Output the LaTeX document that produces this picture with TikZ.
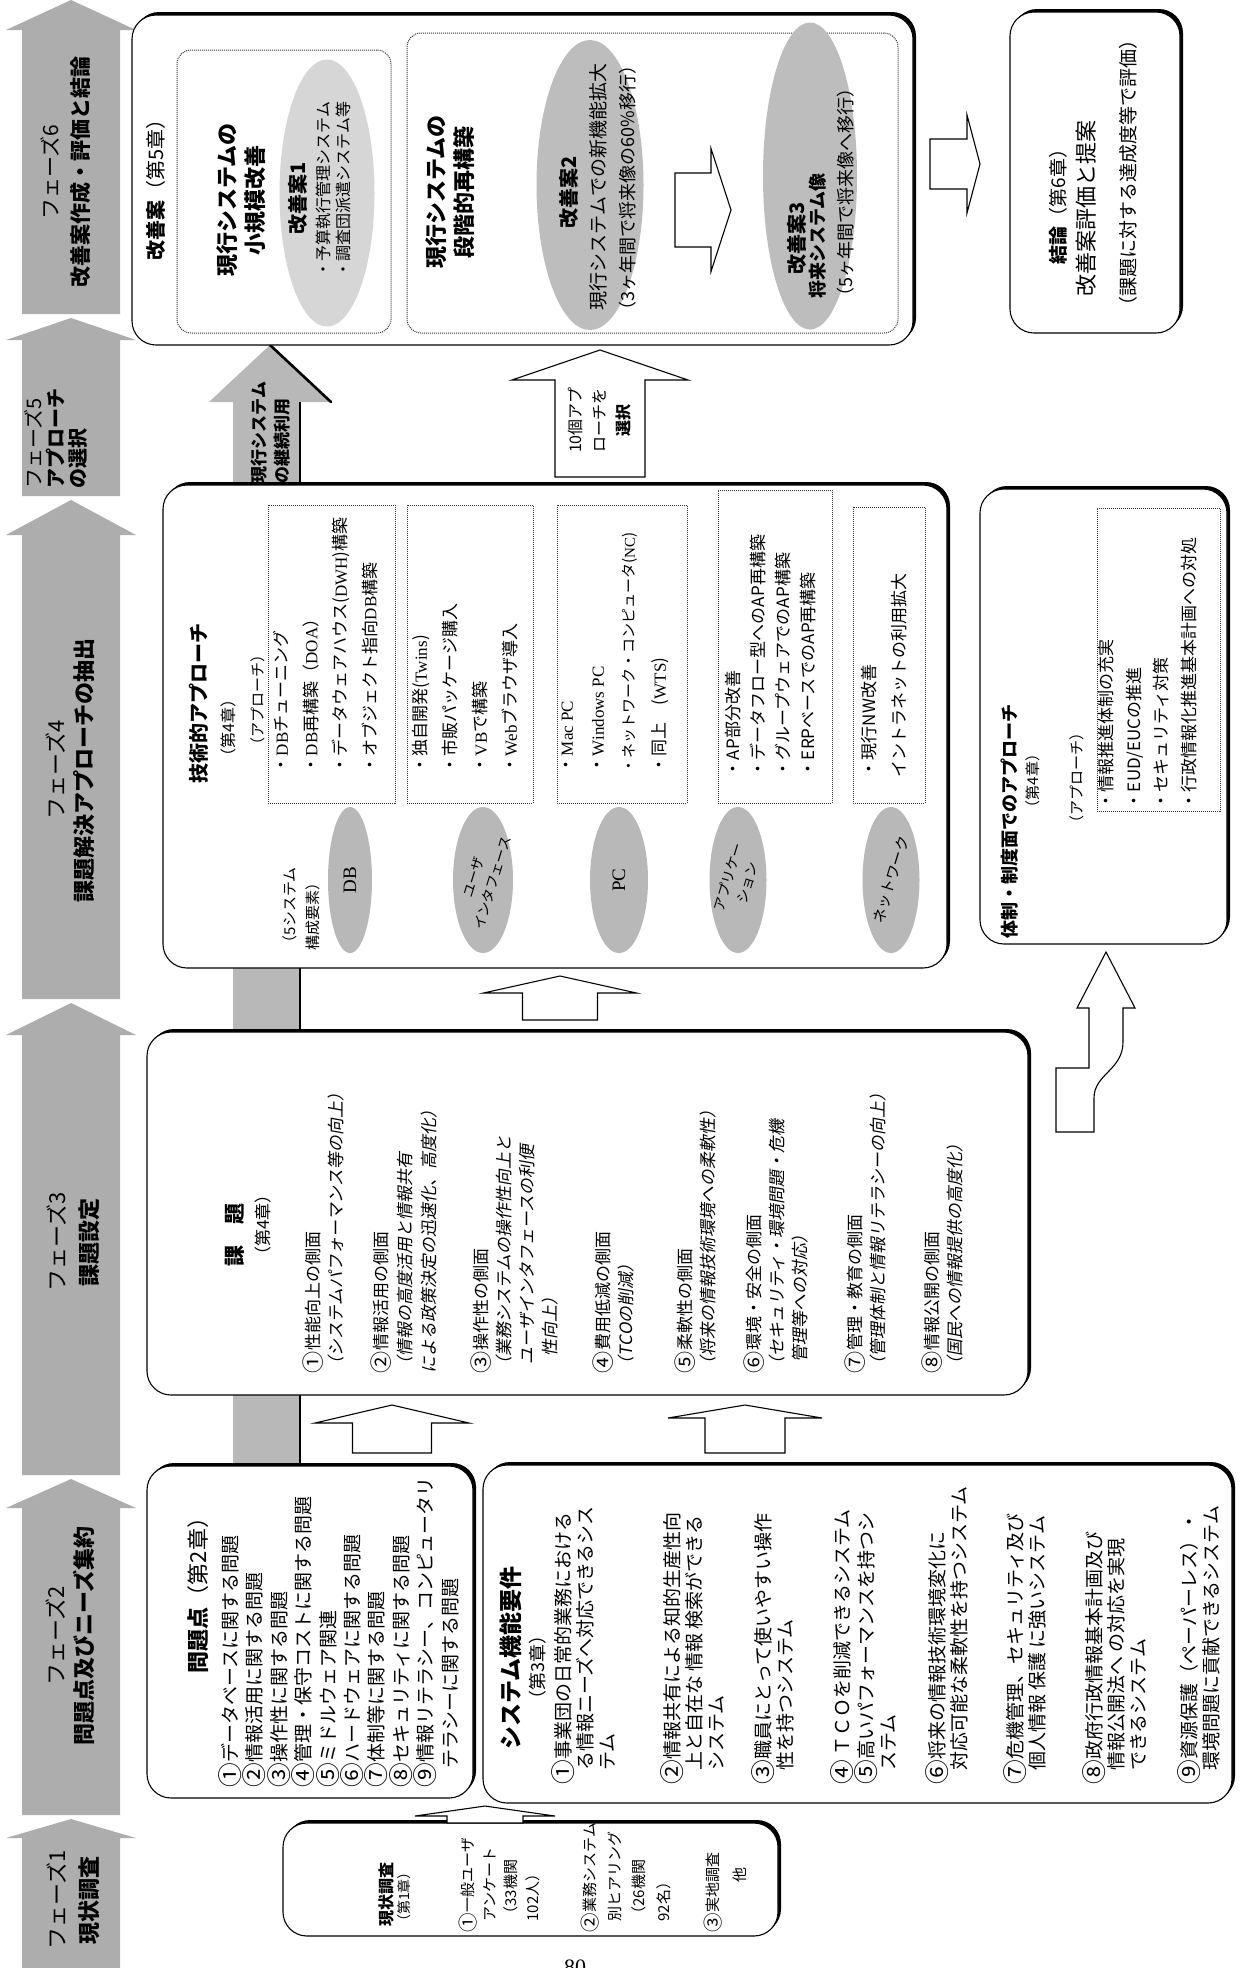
\documentclass[tikz,border=0pt]{standalone}
\usepackage{graphicx}
\usepackage{fontspec}
\setmainfont{Noto Sans CJK JP}
\newfontfamily\jpit[FakeSlant=0.18]{Noto Sans CJK JP}
\newfontfamily\latinserif{Liberation Serif}
\usetikzlibrary{shapes.geometric}
\newcommand\fsz[2]{\fontsize{#1}{#2}\selectfont}
% enlarged circled numeral
\newcommand\cn[1]{\raisebox{-0.1em}{\scalebox{1.3}{#1}}}
% phase arrow: tip y, shoulder y, bottom y (image coordinates, y downwards)
\newcommand\phasearrow[3]{%
  \fill[phasefill] (22,-#3) -- (22,-#2) -- (6,-#2) -- (71,-#1) -- (136,-#2) -- (120,-#2) -- (120,-#3) -- cycle;}
% upward block arrow: tip x, tip y, shoulder y, bottom y, head half width, shaft half width
\newcommand\uparrowblk[6]{%
  \draw[blockarrow] (#1-#6,-#4) -- (#1-#6,-#3) -- (#1-#5,-#3) -- (#1,-#2) -- (#1+#5,-#3) -- (#1+#6,-#3) -- (#1+#6,-#4) -- cycle;}
% rightward block arrow: tip x, tip y, shoulder x, tail x, head half height, shaft half height
\newcommand\rightarrowblk[6]{%
  \draw[blockarrow] (#4,-#2+#6) -- (#3,-#2+#6) -- (#3,-#2+#5) -- (#1,-#2) -- (#3,-#2-#5) -- (#3,-#2-#6) -- (#4,-#2-#6) -- cycle;}
% rounded panel with a solid offset shadow: name, centre x, centre y, width, height
\newcommand\panelbox[5]{%
  \node[panelshade, minimum width=#4pt, minimum height=#5pt] at (#2+3,-#3+3) {};
  \node[panel, minimum width=#4pt, minimum height=#5pt] (#1) at (#2,-#3) {};}
\begin{document}
\begin{tikzpicture}[x=1pt, y=1pt,
  panel/.style={draw=black, line width=1.1pt, fill=white, rounded corners=24pt, inner sep=0pt, outer sep=0pt},
  panelshade/.style={fill=black, rounded corners=24pt, inner sep=0pt, outer sep=0pt},
  dotbox/.style={draw=black!80, densely dotted, line width=1pt, inner sep=0pt},
  phasefill/.style={fill=black!32},
  blockarrow/.style={draw=black, line width=1.1pt, fill=white, line join=miter},
  oval/.style={ellipse, inner sep=0pt},
  tx/.style={rotate=90, inner sep=0pt, outer sep=0pt},
  tilt/.style={rotate=73, inner sep=0pt, outer sep=0pt},
  kitem/.style={tx, align=left, anchor=north west, font=\fsz{17}{23}},
  sitem/.style={tx, align=left, anchor=north west, font=\fsz{19}{22}},
]
\useasboundingbox (0,0) rectangle (1247,-1968);
\fill[white] (0,0) rectangle (1247,-1968);

% ---------- phase band ----------
\phasearrow{0}{30}{314}
\phasearrow{318}{340}{496}
\phasearrow{500}{535}{999}
\phasearrow{1003}{1035}{1475}
\phasearrow{1479}{1508}{1815}
\phasearrow{1819}{1838}{1980}

\node[tx, align=center, font=\fsz{21}{30}] (lp6) at (66,-172) {フェーズ6\\\textbf{改善案作成・評価と結論}};
\node[tx, align=left, anchor=north west, font=\fsz{20}{22}] (lp5) at (25,-488) {フェーズ5\\\textbf{アプローチ}\\\textbf{の選択}};
\node[tx, align=center, font=\fsz{22}{28}] (lp4) at (70,-770) {フェーズ4\\\textbf{課題解決アプローチの抽出}};
\node[tx, align=center, font=\fsz{22}{32}] (lp3) at (73,-1242) {フェーズ3\\\textbf{課題設定}};
\node[tx, align=center, font=\fsz{22}{28}] (lp2) at (70,-1636) {フェーズ2\\\textbf{問題点及びニーズ集約}};
\node[tx, align=center, font=\fsz{22}{32}] (lp1) at (73,-1900) {フェーズ1\\\textbf{現状調査}};

% ---------- long grey arrow running behind the panels ----------
\fill[black!28] (233,-1466) -- (233,-402) -- (209,-402) -- (270,-345) -- (331,-402) -- (300,-402) -- (300,-1466) -- cycle;
\draw[line width=2.6pt] (300,-1466) -- (300,-402);
\draw[line width=2.6pt, line cap=round] (331,-402) -- (270,-345);

% ---------- panels ----------
\panelbox{pkaizen}{522.5}{180}{781}{330}
\panelbox{pketsu}{1095}{172.5}{170}{321}
\panelbox{ptech}{555}{726.5}{784}{483}
\panelbox{ptaisei}{1103.5}{716.5}{247}{455}
\panelbox{pkadai}{587.5}{1213.5}{881}{363}
\panelbox{pmondai}{310}{1632}{326}{332}
\panelbox{psystem}{857.5}{1634}{749}{338}
\panelbox{pgenjo}{530.5}{1879.5}{495}{113}

% ---------- dotted groups ----------
\node[dotbox, rounded corners=14pt, minimum width=214pt, minimum height=283pt] (d1) at (284,-191.5) {};
\node[dotbox, rounded corners=14pt, minimum width=491pt, minimum height=300pt] (d2) at (652.5,-183) {};
\node[dotbox, minimum width=127pt, minimum height=298pt] (ddb) at (331.5,-654) {};
\node[dotbox, minimum width=126pt, minimum height=298pt] (dui) at (470,-654) {};
\node[dotbox, minimum width=130pt, minimum height=298pt] (dpc) at (622,-654) {};
\node[dotbox, minimum width=114pt, minimum height=313pt] (dap) at (775,-646.5) {};
\node[dotbox, minimum width=72pt, minimum height=296pt] (dnw) at (889,-655) {};
\node[dotbox, minimum width=123pt, minimum height=303pt] (dtai) at (1158.5,-659.5) {};

% ---------- shaded ovals ----------
\node[oval, fill=black!16, minimum width=95pt, minimum height=267pt] (e1) at (327,-193) {};
\node[oval, fill=black!26, minimum width=107pt, minimum height=290pt] (e2) at (590,-185) {};
\node[oval, fill=black!26, minimum width=94pt, minimum height=307pt] (e3) at (810,-176) {};
\node[oval, fill=black!28, minimum width=44pt, minimum height=146pt] (edb) at (350,-880) {};
\node[oval, fill=black!28, minimum width=60pt, minimum height=146pt] (eui) at (483,-880) {};
\node[oval, fill=black!28, minimum width=58pt, minimum height=146pt] (epc) at (619,-880) {};
\node[oval, fill=black!28, minimum width=57pt, minimum height=146pt] (eap) at (738,-880) {};
\node[oval, fill=black!28, minimum width=57pt, minimum height=146pt] (enw) at (891,-880) {};

% ---------- block arrows ----------
\uparrowblk{600}{350}{380}{477}{88}{45}
\uparrowblk{560}{976}{993}{1020}{76.5}{37.5}
\uparrowblk{392}{1405}{1423}{1453}{77}{39.5}
\uparrowblk{745}{1405}{1418}{1453}{77}{40}
\uparrowblk{485}{1806}{1816}{1823}{70}{38}
\rightarrowblk{731}{210}{711}{675}{61.5}{37}
\rightarrowblk{980}{164}{967}{930}{49}{25}
\draw[blockarrow] (1056,-1132) -- (1056,-1068) -- (1089,-1068) -- (1089,-1008) -- (1077,-1008) -- (1106,-952)
  -- (1135,-1008) -- (1123,-1008) -- (1123,-1042) .. controls (1123,-1070) and (1094,-1074) .. (1094,-1098) -- (1094,-1132) -- cycle;

% ---------- phase 6: improvement plans and conclusion ----------
\node[tx, font=\fsz{20}{24}] (t5) at (156,-185) {\textbf{改善案}（第5章）};
\node[tx, align=center, font=\fsz{22}{28}\bfseries] (t51) at (241,-200) {現行システムの\\小規模改善};
\node[tx, font=\fsz{20}{24}\bfseries] (t52) at (298,-198) {改善案1};
\node[tx, align=left, anchor=north west, font=\fsz{16}{20}] (t53) at (316,-277) {・予算執行管理システム\\・調査団派遣システム等};
\node[tx, align=center, font=\fsz{22}{28}\bfseries] (t54) at (450,-192) {現行システムの\\段階的再構築};
\node[tx, font=\fsz{20}{24}\bfseries] (t55) at (569,-192) {改善案2};
\node[tx, font=\fsz{19}{24}] (t56) at (598,-187) {現行システムでの新機能拡大};
\node[tx, font=\fsz{18}{24}] (t57) at (628,-188) {（3ヶ年間で将来像の60\%移行）};
\node[tx, font=\fsz{20}{24}\bfseries] (t58) at (797,-238) {改善案3};
\node[tx, font=\fsz{18}{24}\bfseries] (t59) at (818,-236) {将来システム像};
\node[tx, font=\fsz{18}{24}] (t510) at (846,-192) {（5ヶ年間で将来像へ移行）};

\node[tx, font=\fsz{19}{24}] (t61) at (1058,-202) {\textbf{結論}（第6章）};
\node[tx, font=\fsz{22}{26}] (t62) at (1086,-208) {改善案評価と提案};
\node[tx, font=\fsz{19}{24}] (t63) at (1128,-173) {（課題に対する達成度等で評価）};

% ---------- arrow captions ----------
\node[tx, align=left, anchor=north west, font=\fsz{17}{23}\bfseries] (tcont) at (251,-483) {現行システム\\の継続利用};
\node[tx, align=center, font=\fsz{16}{24}] (tsel) at (600,-420) {10個アプ\\ローチを\\\textbf{選択}};

% ---------- phase 4: technical approach ----------
\node[tx, font=\fsz{20}{24}\bfseries] (t41) at (199,-703) {技術的アプローチ};
\node[tx, font=\fsz{16}{20}] (t42) at (228,-728) {（第4章）};
\node[tx, font=\fsz{15}{20}] (t43) at (258,-700) {（アプローチ）};
\node[tx, align=left, anchor=north west, font=\fsz{17}{29.5}] (tdb) at (273.5,-773) {・{\latinserif DB}チューニング\\・{\latinserif DB}再構築（{\latinserif DOA}）\\・データウェアハウス({\latinserif DWH})構築\\・オブジェクト指向{\latinserif DB}構築};
\node[tx, align=left, anchor=north west, font=\fsz{17}{30}] (tui) at (412.5,-773) {・独自開発({\latinserif Twins})\\・市販パッケージ購入\\・{\latinserif VB}で構築\\・{\latinserif Web}ブラウザ導入};
\node[tx, align=left, anchor=north west, font=\fsz{17}{31}] (tpc) at (561.5,-773) {・{\latinserif Mac PC}\\・{\latinserif Windows PC}\\{\fsz{15}{31}・ネットワーク・コンピュータ({\latinserif NC})}\\・同上　({\latinserif WTS})};
\node[tx, align=left, anchor=north west, font=\fsz{17}{25}] (tap) at (725,-777) {・AP部分改善\\・データフロー型へのAP再構築\\・グループウェアでのAP構築\\・ERPベースでのAP再構築};
\node[tx, align=left, anchor=north west, font=\fsz{17}{30}] (tnw) at (861.5,-777) {・現行NW改善\\イントラネットの利用拡大};
\node[tx, align=left, anchor=north west, font=\fsz{15}{23}] (t5sys) at (282.5,-950) {（5システム\\構成要素）};
\node[tx, font=\latinserif\fsz{19}{20}] (ldb) at (edb) {DB};
\node[tilt, align=center, font=\fsz{14}{20}] (lui) at (eui) {ユーザ\\インタフェース};
\node[tx, font=\latinserif\fsz{19}{20}] (lpc) at (epc) {PC};
\node[tilt, align=center, font=\fsz{14}{20}] (lap) at (eap) {アプリケー\\ション};
\node[tilt, font=\fsz{15}{19}] (lnw) at (enw) {ネットワーク};

\node[tx, font=\fsz{18}{22}\bfseries] (t71) at (1010,-821) {体制・制度面でのアプローチ};
\node[tx, font=\fsz{15}{20}] (t72) at (1033,-781) {（第4章）};
\node[tx, font=\fsz{15}{20}] (t73) at (1077,-778) {（アプローチ）};
\node[tx, align=left, anchor=north west, font=\fsz{17}{27.5}] (t74) at (1098.5,-809) {・情報推進体制の充実\\・EUD/EUCの推進\\・セキュリティ対策\\・行政情報化推進基本計画への対処};

% ---------- phase 3: issues ----------
\node[tx, font=\fsz{21}{24}\bfseries] (t31) at (235,-1235) {課　題};
\node[tx, font=\fsz{17}{22}] (t32) at (263,-1225) {（第4章）};
\node[kitem] (k1) at (302.5,-1373) {\cn{①}性能向上の側面\\{\jpit（システムパフォーマンス等の向上）}};
\node[kitem, font=\fsz{17}{24}] (k2) at (370.5,-1373) {\cn{②}情報活用の側面\\{\jpit（情報の高度活用と情報共有}\\{\jpit による政策決定の迅速化、高度化）}};
\node[kitem] (k3) at (470.5,-1373) {\cn{③}操作性の側面\\{\jpit（業務システムの操作性向上と}\\{\jpit\hspace*{0.5em}ユーザインタフェースの利便}\\{\jpit\hspace*{1em}性向上）}};
\node[kitem] (k4) at (592.5,-1373) {\cn{④}費用低減の側面\\{\jpit（TCOの削減）}};
\node[kitem] (k5) at (674.5,-1373) {\cn{⑤}柔軟性の側面\\{\jpit（将来の情報技術環境への柔軟性）}};
\node[kitem] (k6) at (743.5,-1373) {\cn{⑥}環境・安全の側面\\{\jpit（セキュリティ・環境問題・危機}\\{\jpit\hspace*{0.6em}管理等への対応）}};
\node[kitem] (k7) at (844.5,-1373) {\cn{⑦}管理・教育の側面\\{\jpit（管理体制と情報リテラシーの向上）}};
\node[kitem] (k8) at (921.5,-1373) {\cn{⑧}情報公開の側面\\{\jpit（国民への情報提供の高度化）}};

% ---------- phase 2: problems and requirements ----------
\node[tx, font=\fsz{22}{26}] (t21) at (198,-1590) {\textbf{問題点}（第2章）};
\node[tx, align=left, anchor=north west, font=\fsz{19}{24.4}] (t22) at (218.5,-1787) {\cn{①}データベースに関する問題\\\cn{②}情報活用に関する問題\\\cn{③}操作性に関する問題\\\cn{④}管理・保守コストに関する問題\\\cn{⑤}ミドルウェア関連\\\cn{⑥}ハードウェアに関する問題\\\cn{⑦}体制等に関する問題\\\cn{⑧}セキュリティに関する問題\\\cn{⑨}情報リテラシー、コンピュータリ\\\hspace*{1em}テラシーに関する問題};

\node[tx, font=\fsz{23}{26}\bfseries] (ts1) at (511,-1658) {システム機能要件};
\node[tx, font=\fsz{18}{22}] (ts2) at (538,-1667) {（第3章）};
\node[sitem] (s1) at (551.5,-1784) {\cn{①}事業団の日常的業務における\\\hspace*{0.7em}る情報ニーズへ対応できるシス\\\hspace*{0.7em}テム};
\node[sitem] (s2) at (660.5,-1784) {\cn{②}情報共有による知的生産性向\\\hspace*{0.7em}上と自在な 情報 検索ができる\\\hspace*{0.7em}システム};
\node[sitem] (s3) at (751.5,-1784) {\cn{③}職員にとって使いやすい操作\\\hspace*{0.7em}性を持つシステム};
\node[sitem] (s4) at (830.5,-1784) {\cn{④} ＴＣＯを削減できるシステム\\\cn{⑤}高いパフォーマンスを持つシ\\\hspace*{0.7em}ステム};
\node[sitem] (s6) at (925.5,-1784) {\cn{⑥}将来の情報技術環境変化に\\\hspace*{0.7em}対応可能な柔軟性を持つシステム};
\node[sitem] (s7) at (1003.5,-1784) {\cn{⑦}危機管理、セキュリティ及び\\\hspace*{0.7em}個人情報 保護 に強いシステム};
\node[sitem] (s8) at (1082.5,-1784) {\cn{⑧}政府行政情報基本計画及び\\\hspace*{0.7em}情報公開法へ の対応を実現\\\hspace*{0.7em}できるシステム};
\node[sitem] (s9) at (1177.5,-1784) {\cn{⑨}資源保護（ペーパーレス）・\\\hspace*{0.7em}環境問題に貢献できるシステム};

% ---------- phase 1: survey ----------
\node[tx, font=\fsz{16}{22}\bfseries] (t11) at (386,-1894) {現状調査};
\node[tx, font=\fsz{14}{20}] (t12) at (404,-1897) {（第1章）};
\node[tx, align=left, anchor=north west, font=\fsz{15}{21.5}] (t13) at (458.5,-1932) {\cn{①}一般ユーザ\\\hspace*{0.7em}アンケート\\\hspace*{0.7em}（33機関\\\hspace*{0.7em}102人）};
\node[tx, align=left, anchor=north west, font=\fsz{15}{24.5}] (t14) at (580.5,-1932) {\cn{②}業務システム\\\hspace*{0.7em}別ヒアリング\\\hspace*{0.7em}（26機関\\\hspace*{0.7em}92名）};
\node[tx, align=left, anchor=north west, font=\fsz{15}{27}] (t15) at (703.5,-1932) {\cn{③}実地調査\\\hspace*{3.3em}他};

% page number at the foot
\node[font=\latinserif\fsz{22}{22}, anchor=north, inner sep=0pt] (pg) at (575,-1960) {80};
\end{tikzpicture}
\end{document}
